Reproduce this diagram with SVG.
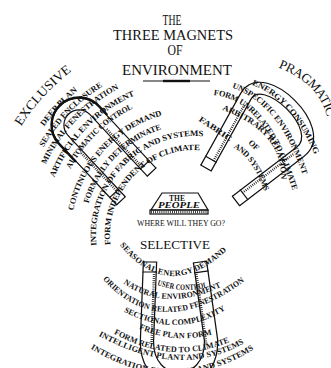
<svg xmlns="http://www.w3.org/2000/svg" width="331" height="368" viewBox="0 0 331 368">
<style>
.t{font-family:"Liberation Serif","Times New Roman",serif;fill:#111}
.s{font-size:8.2px;font-weight:bold}
.b{font-size:13px}
.ttl{font-size:14.5px;text-anchor:middle}
.c{dominant-baseline:central}
.mo{fill:none;stroke:#111;stroke-linejoin:round}
.mi{fill:none;stroke:#fff;stroke-linejoin:round}
.ln{fill:none;stroke:#111;stroke-width:1.2}
.sh{fill:none;stroke:#111;stroke-width:2.4}
.h{fill:none;stroke:#111;stroke-width:2.4;stroke-dasharray:0.8 1.3}
</style>
<defs>
<path id="pL1" d="M16.9,123.7 A210,210 0 0 1 77.6,60.9"/>
<path id="pL2" d="M41.5,124.7 A189,189 0 0 1 86.6,80.2"/>
<path id="pL3" d="M41,145.7 A178,178 0 0 1 111.4,77.8"/>
<path id="pL4" d="M43.1,163.2 A168,168 0 0 1 126.7,81.5"/>
<path id="pL5" d="M51.5,176.4 A155,155 0 0 1 142,89.3"/>
<path id="pL6" d="M67.9,167.4 A144,144 0 0 1 141.1,101.5"/>
<path id="pL7" d="M70.5,210.1 A127,127 0 0 1 168.6,110.8"/>
<path id="pL8" d="M85.7,202.6 A114,114 0 0 1 171.3,123.5"/>
<path id="pL9" d="M93.6,245.7 A102,102 0 0 1 212.7,134.6"/>
<path id="pL10" d="M107.6,245 A88,88 0 0 1 210.3,148.3"/>
<path id="pR1" d="M280,63 Q325,80 333,120 L335,130"/>
<path id="pR2" d="M253,82 Q294.5,97.5 318,155 L322.5,166"/>
<path id="pR3" d="M233,85 Q282.5,101.5 306,176 L309,185.5"/>
<path id="pR4" d="M214,92 Q269,98 296,192 L298.8,201.6"/>
<path id="pR5" d="M223,107 Q286.5,130 284,181 L283.5,191"/>
<path id="pR6" d="M200,118 L240,145"/>
<path id="pR7" d="M250,141 L266,156"/>
<path id="pR8" d="M235,145 Q256.5,157 268,193 L271,202.5"/>
<path id="pB2" d="M122,243 Q169.5,301.5 227,246 L235.6,237.7"/>
<path id="pB3" d="M158,282 Q183,291 208,284 L216,281"/>
<path id="pB4" d="M125,281 Q166.5,310 222,283 L231,278.6"/>
<path id="pB5" d="M105,277 Q161,341 245,277 L253,271"/>
<path id="pB6" d="M125,309 Q178.5,336.5 226,306 L234.4,300.6"/>
<path id="pB7" d="M140,326 Q177,341.5 214,331 L223.6,328.3"/>
<path id="pB8" d="M115,331 Q176,364 233,337 L242,332.7"/>
<path id="pB9" d="M100,333 Q182.5,378.5 247,338 L255.5,332.7"/>
<path id="pB10" d="M92,346 Q177,397.5 258,343 L266.3,337.4"/>
</defs>
<rect width="331" height="368" fill="#fff"/>

<g id="title">
<text class="t ttl" x="172" y="25" textLength="19" lengthAdjust="spacingAndGlyphs">THE</text>
<text class="t ttl" x="173" y="40" textLength="120" lengthAdjust="spacingAndGlyphs">THREE MAGNETS</text>
<text class="t ttl" x="175" y="55" textLength="15" lengthAdjust="spacingAndGlyphs">OF</text>
<text class="t ttl" x="177" y="75" textLength="110" lengthAdjust="spacingAndGlyphs">ENVIRONMENT</text>
<path class="ln" d="M143,81 H210" stroke-width="1"/>
<path class="sh" d="M163,81 H190"/>
</g>

<g id="connectors"></g>

<g id="magnet-exclusive">
<g transform="translate(79,125) rotate(-43)">
<path class="mo" stroke-width="13" d="M21,84 V0 A21,21 0 0 0 -21,0 V84"/>
<path class="mi" stroke-width="10.6" d="M21,84 V0 A21,21 0 0 0 -21,0 V84"/>
<path class="ln" d="M14.5,84 H27.5 M-27.5,84 H-14.5 M14.5,74 H27.5 M-27.5,74 H-14.5"/>
<path class="h" d="M17.5,22 V74 M-17.5,22 V74"/>
<path class="sh" d="M27.5,12 V0 A27.5,27.5 0 0 0 -27.5,0 V25"/>
</g>
<text class="t b c"><textPath href="#pL1" textLength="77" lengthAdjust="spacingAndGlyphs">EXCLUSIVE</textPath></text>
<text class="t s c"><textPath href="#pL2" textLength="50" lengthAdjust="spacingAndGlyphs">DEEP PLAN</textPath></text>
<text class="t s c"><textPath href="#pL3" textLength="87" lengthAdjust="spacingAndGlyphs">SEALED ENCLOSURE</textPath></text>
<text class="t s c"><textPath href="#pL4" textLength="109" lengthAdjust="spacingAndGlyphs">MINIMAL FENESTRATION</textPath></text>
<text class="t s c"><textPath href="#pL5" textLength="120" lengthAdjust="spacingAndGlyphs">ARTIFICIAL ENVIRONMENT</textPath></text>
<text class="t s c"><textPath href="#pL6" textLength="90" lengthAdjust="spacingAndGlyphs">AUTOMATIC CONTROL</textPath></text>
<text class="t s c"><textPath href="#pL7" textLength="140" lengthAdjust="spacingAndGlyphs">CONTINUOUS ENERGY DEMAND</textPath></text>
<text class="t s c"><textPath href="#pL8" textLength="111" lengthAdjust="spacingAndGlyphs">FORMALLY DETERMINATE</textPath></text>
<text class="t s c"><textPath href="#pL9" textLength="179" lengthAdjust="spacingAndGlyphs">INTEGRATION OF FABRIC AND SYSTEMS</textPath></text>
<text class="t s c"><textPath href="#pL10" textLength="153" lengthAdjust="spacingAndGlyphs">FORM INDEPENDENT OF CLIMATE</textPath></text>
</g>

<g id="magnet-pragmatic">
<path class="mo" stroke-width="13" d="M206,168 L246,96 C263,66 330,130 300,152 L236,201"/>
<path class="mi" stroke-width="10.6" d="M206,168 L246,96 C263,66 330,130 300,152 L236,201"/>
<path class="ln" d="M211.7,171.2 L200.3,164.8 M216.6,162.5 L205.2,156.1 M239.9,206.2 L232.1,195.8 M248,199.9 L240,189.5"/>
<path class="h" d="M213.5,160.8 L244.6,104.5 M242.4,192.9 L293.5,154"/>
<text class="t b c"><textPath href="#pR1" textLength="77" lengthAdjust="spacingAndGlyphs">PRAGMATIC</textPath></text>
<text class="t s c"><textPath href="#pR2" textLength="99" lengthAdjust="spacingAndGlyphs">ENERGY CONSUMING</textPath></text>
<text class="t s c"><textPath href="#pR3" textLength="119" lengthAdjust="spacingAndGlyphs">UNSPECIFIC ENVIRONMENT</textPath></text>
<text class="t s c"><textPath href="#pR4" textLength="135" lengthAdjust="spacingAndGlyphs">FORM UNRELATED TO CLIMATE</textPath></text>
<text class="t s c"><textPath href="#pR5" textLength="102" lengthAdjust="spacingAndGlyphs">ARBITRARY RELATION</textPath></text>
<text class="t s c"><textPath href="#pR6" textLength="38" lengthAdjust="spacingAndGlyphs">FABRIC</textPath></text>
<text class="t s c"><textPath href="#pR7">OF</textPath></text>
<text class="t s c"><textPath href="#pR8" textLength="57" lengthAdjust="spacingAndGlyphs">AND SYSTEMS</textPath></text>
</g>

<g id="people">
<path class="ln" d="M162,193 H198 L208,210 H151 Z"/>
<rect class="ln" x="150" y="210" width="58" height="4"/>
<path class="h" stroke-width="3" d="M151,212 H207"/>
<text class="t" x="177" y="200.5" font-size="7.5" font-weight="bold" text-anchor="middle">THE</text>
<text class="t" x="179" y="208" font-size="8" font-style="italic" font-weight="bold" text-anchor="middle" textLength="42" lengthAdjust="spacingAndGlyphs">PEOPLE</text>
<text class="t" x="181" y="226" font-size="8" text-anchor="middle" textLength="88" lengthAdjust="spacingAndGlyphs">WHERE WILL THEY GO?</text>
</g>

<g id="magnet-selective">
<path class="mo" stroke-width="14.5" d="M150,262 L147,340 C145,392 213,392 211,340 L200,262"/>
<path class="mi" stroke-width="12" d="M150,262 L147,340 C145,392 213,392 211,340 L200,262"/>
<path class="ln" d="M142.7,262 H157.3 M142.6,272 H157.2 M207.2,261 L192.8,263 M208.6,270.9 L194.2,272.9"/>
<path class="h" d="M154,274 L151.5,345 M196.5,274 L206.5,345"/>
<text class="t b" x="175" y="249" text-anchor="middle" textLength="70" lengthAdjust="spacingAndGlyphs">SELECTIVE</text>
<text class="t s c"><textPath href="#pB2" textLength="120" lengthAdjust="spacingAndGlyphs">SEASONAL ENERGY DEMAND</textPath></text>
<text class="t s c"><textPath href="#pB3" textLength="50" lengthAdjust="spacingAndGlyphs">USER CONTROL</textPath></text>
<text class="t s c"><textPath href="#pB4" textLength="100" lengthAdjust="spacingAndGlyphs">NATURAL ENVIRONMENT</textPath></text>
<text class="t s c"><textPath href="#pB5" textLength="155" lengthAdjust="spacingAndGlyphs">ORIENTATION RELATED FENESTRATION</textPath></text>
<text class="t s c"><textPath href="#pB6" textLength="104" lengthAdjust="spacingAndGlyphs">SECTIONAL COMPLEXITY</textPath></text>
<text class="t s c"><textPath href="#pB7" textLength="73" lengthAdjust="spacingAndGlyphs">FREE PLAN FORM</textPath></text>
<text class="t s c"><textPath href="#pB8" textLength="118" lengthAdjust="spacingAndGlyphs">FORM RELATED TO CLIMATE</textPath></text>
<text class="t s c"><textPath href="#pB9" textLength="150" lengthAdjust="spacingAndGlyphs">INTELLIGENT PLANT AND SYSTEMS</textPath></text>
<text class="t s c"><textPath href="#pB10" textLength="170" lengthAdjust="spacingAndGlyphs">INTEGRATION OF FABRIC AND SYSTEMS</textPath></text>
</g>
</svg>
